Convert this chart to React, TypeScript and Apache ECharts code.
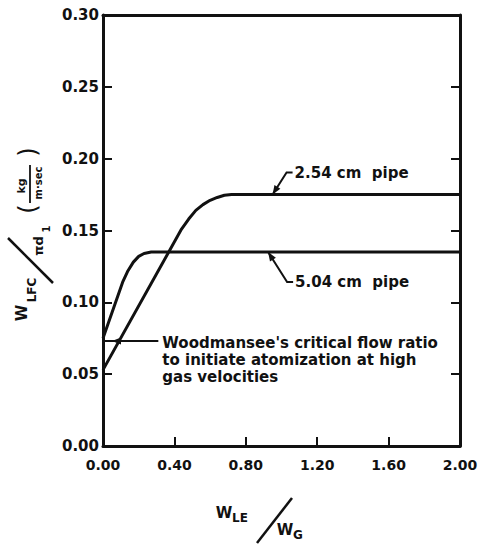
import React, { useEffect, useRef } from "react";
import * as echarts from "echarts";

// Data
const pipe254X = [0, 0.44, 0.48, 0.52, 0.56, 0.6, 0.64, 0.68, 0.72, 2.0];
const pipe254Y = [0.053, 0.151, 0.158, 0.164, 0.168, 0.171, 0.173, 0.1745, 0.175, 0.175];
const pipe504X = [0, 0.11, 0.14, 0.17, 0.2, 0.23, 0.27, 2.0];
const pipe504Y = [0.075, 0.114, 0.122, 0.128, 0.132, 0.134, 0.135, 0.135];
const critRatio = 0.073;
const critLineX = [0, 0.31];
const xTicks = { min: 0, max: 2, interval: 0.4 };
const yTicks = { min: 0, max: 0.3, interval: 0.05 };
const label254 = { text: "2.54 cm  pipe", tip: [0.95, 0.175] };
const label504 = { text: "5.04 cm  pipe", tip: [0.925, 0.135] };
const woodText = [
  "Woodmansee's critical flow ratio",
  "to initiate atomization at high",
  "gas velocities",
];

const FONT = "DejaVu Sans";
const INK = "#111";

function zip(xs: number[], ys: number[]) {
  return xs.map((x, i) => [x, ys[i]]);
}

function arrowHead(tip: number[], from: number[], len: number, half: number) {
  const dx = tip[0] - from[0];
  const dy = tip[1] - from[1];
  const d = Math.hypot(dx, dy) || 1;
  const ux = dx / d, uy = dy / d;
  const bx = tip[0] - ux * len, by = tip[1] - uy * len;
  return {
    type: "polygon",
    shape: {
      points: [
        [tip[0], tip[1]],
        [bx - uy * half, by + ux * half],
        [bx + uy * half, by - ux * half],
      ],
    },
    style: { fill: INK },
    z: 10,
  };
}

export default function App() {
  const ref = useRef<HTMLDivElement>(null);
  useEffect(() => {
    document.body.style.margin = "0";
    if (!ref.current) return;
    const chart = echarts.init(ref.current, null, { renderer: "svg" });
    const tickLabel = (v: number) => v.toFixed(2);
    chart.setOption({
      animation: false,
      backgroundColor: "#fff",
      grid: { left: 103, right: 21, top: 15, bottom: 99 },
      xAxis: [
        {
          type: "value",
          min: xTicks.min,
          max: xTicks.max,
          interval: xTicks.interval,
          axisLine: { show: true, onZero: false, lineStyle: { color: INK, width: 3 } },
          axisTick: { show: true, inside: true, length: 9, lineStyle: { color: INK, width: 2 } },
          axisLabel: {
            formatter: tickLabel,
            color: INK,
            fontFamily: FONT,
            fontWeight: "bold",
            fontSize: 14,
            margin: 12,
          },
          splitLine: { show: false },
        },
        {
          type: "value",
          position: "top",
          min: xTicks.min,
          max: xTicks.max,
          interval: xTicks.interval,
          axisLine: { show: true, onZero: false, lineStyle: { color: INK, width: 3 } },
          axisTick: { show: false },
          axisLabel: { show: false },
          splitLine: { show: false },
        },
      ],
      yAxis: [
        {
          type: "value",
          min: yTicks.min,
          max: yTicks.max,
          interval: yTicks.interval,
          axisLine: { show: true, onZero: false, lineStyle: { color: INK, width: 3 } },
          axisTick: { show: true, inside: true, length: 9, lineStyle: { color: INK, width: 2 } },
          axisLabel: {
            formatter: tickLabel,
            color: INK,
            fontFamily: FONT,
            fontWeight: "bold",
            fontSize: 15,
            margin: 4,
          },
          splitLine: { show: false },
        },
        {
          type: "value",
          position: "right",
          min: yTicks.min,
          max: yTicks.max,
          interval: yTicks.interval,
          axisLine: { show: true, onZero: false, lineStyle: { color: INK, width: 3 } },
          axisTick: { show: true, inside: true, length: 9, lineStyle: { color: INK, width: 2 } },
          axisLabel: { show: false },
          splitLine: { show: false },
        },
      ],
      series: [
        {
          name: "2.54 cm pipe",
          type: "line",
          data: zip(pipe254X, pipe254Y),
          smooth: false,
          showSymbol: false,
          lineStyle: { color: INK, width: 3, join: "round" },
        },
        {
          name: "5.04 cm pipe",
          type: "line",
          data: zip(pipe504X, pipe504Y),
          smooth: false,
          showSymbol: false,
          lineStyle: { color: INK, width: 3, join: "round" },
        },
        {
          name: "critical",
          type: "line",
          data: critLineX.map((x) => [x, critRatio]),
          showSymbol: false,
          lineStyle: { color: INK, width: 2 },
        },
      ],
    });

    const px = (p: number[]) => chart.convertToPixel({ xAxisIndex: 0, yAxisIndex: 0 }, p) as number[];
    const g: any[] = [];
    const txt = (text: string, x: number, y: number, size: number, extra: any = {}) => ({
      type: "text",
      x,
      y,
      style: {
        text,
        fill: INK,
        font: `bold ${size}px "${FONT}"`,
        align: "center",
        verticalAlign: "middle",
        ...extra.style,
      },
      rotation: extra.rotation || 0,
      z: 10,
    });
    const seg = (pts: number[][], w = 2) => ({
      type: "polyline",
      shape: { points: pts },
      style: { stroke: INK, lineWidth: w, fill: "none" },
      z: 10,
    });
    const leftText = (text: string, x: number, y: number) => ({
      type: "text",
      x,
      y,
      style: { text, fill: INK, font: `bold 15px "${FONT}"`, align: "left", verticalAlign: "middle" },
      z: 10,
    });

    // 2.54 label + leader
    const t1 = px(label254.tip);
    const e1 = [t1[0] + 14, t1[1] - 22];
    g.push(seg([t1, e1, [e1[0] + 6, e1[1]]]));
    g.push(arrowHead(t1, e1, 9, 3.5));
    g.push(leftText(label254.text, e1[0] + 8, e1[1]));
    // 5.04 label + leader
    const t2 = px(label504.tip);
    const e2 = [t2[0] + 19, t2[1] + 30];
    g.push(seg([t2, e2, [e2[0] + 6, e2[1]]]));
    g.push(arrowHead(t2, e2, 9, 3.5));
    g.push(leftText(label504.text, e2[0] + 8, e2[1]));
    // Woodmansee arrow + text
    const c0 = px([0, critRatio]);
    const c1 = px([critLineX[1], critRatio]);
    g.push(arrowHead([c0[0] + 9, c0[1]], [c0[0] + 30, c0[1]], 9, 3.5));
    woodText.forEach((line, i) => {
      g.push(leftText(line, c1[0] + 4, c1[1] + 2 + i * 17));
    });

    // X axis title: W_LE / W_G
    g.push(txt("W", 224, 513, 15));
    g.push(txt("LE", 240, 518, 12));
    g.push(seg([[257, 543], [292, 498]], 2.5));
    g.push(txt("W", 285, 530, 15));
    g.push(txt("G", 298, 535, 12));

    // Y axis title: W_LFC / πd_1 (kg / m·sec), rotated
    const R = Math.PI / 2;
    g.push(txt("W", 22, 313, 15, { rotation: R }));
    g.push(txt("LFC", 32, 290, 12, { rotation: R }));
    g.push(seg([[8, 238], [53, 283]], 2.5));
    g.push(txt("πd", 38, 246, 13, { rotation: R }));
    g.push(txt("1", 46, 229, 10, { rotation: R }));
    g.push(txt("(", 28, 209, 24, { rotation: R, style: { font: `normal 24px "${FONT}"` } }));
    g.push(txt("kg", 21, 186, 11, { rotation: R }));
    g.push(seg([[30, 165], [30, 203]], 1.8));
    g.push(txt("m·sec", 38, 183, 10, { rotation: R }));
    g.push(txt(")", 28, 152, 24, { rotation: R, style: { font: `normal 24px "${FONT}"` } }));

    chart.setOption({ graphic: g });
    return () => chart.dispose();
  }, []);
  return <div ref={ref} style={{ width: 481, height: 545 }} />;
}
